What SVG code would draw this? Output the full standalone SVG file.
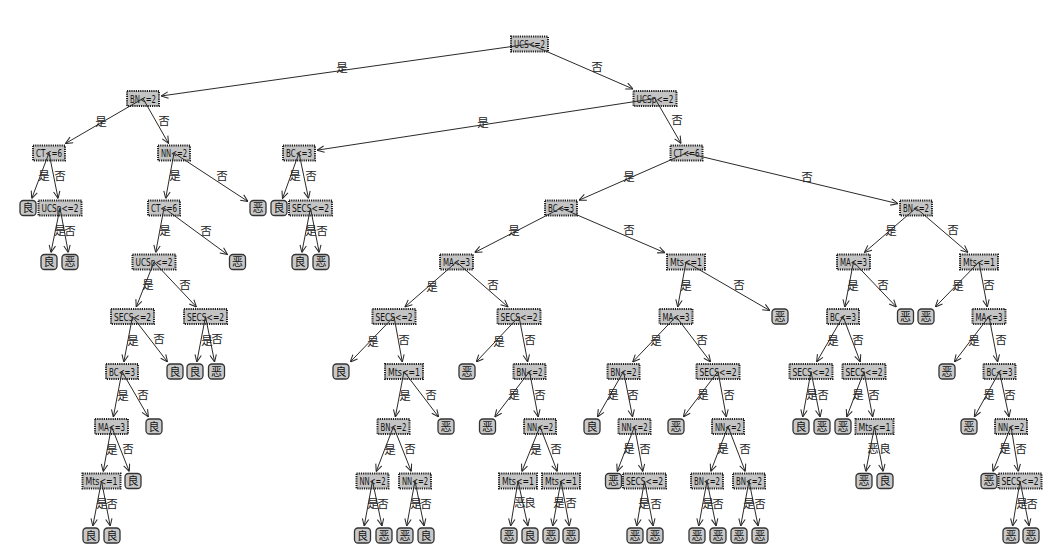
<svg xmlns="http://www.w3.org/2000/svg" width="1056" height="557" viewBox="0 0 1056 557">
<style>
.d rect{fill:#c4c4c4;stroke:#1e1e1e;stroke-width:2;stroke-dasharray:1.2 1}
.d text{font-family:"Liberation Sans Narrow","DejaVu Sans Condensed","Liberation Sans",sans-serif;font-size:11px;fill:#111;text-anchor:middle}
.l rect{fill:#c8c8c8;stroke:#333;stroke-width:1.3}
.l text{font-family:"Noto Sans CJK SC",sans-serif;font-size:11px;fill:#111;text-anchor:middle}
#edges line{stroke:#2a2a2a;stroke-width:1;marker-end:url(#arr)}
#labels text{font-family:"Noto Sans CJK SC",sans-serif;font-size:11.5px;fill:#222;text-anchor:middle}
</style>
<defs>
<marker id="arr" viewBox="0 0 10 10" refX="10" refY="5" markerWidth="8" markerHeight="8" orient="auto" markerUnits="userSpaceOnUse">
<path d="M1,1 L10,5 L1,9" fill="none" stroke="#2a2a2a" stroke-width="1.3"/>
</marker>
</defs>
<rect width="1056" height="557" fill="#ffffff"/>
<g id="nodes">
<g id="n0" class="d"><rect x="511" y="36.5" width="37" height="15"/><text x="529.5" y="48" textLength="31" lengthAdjust="spacingAndGlyphs">UCS&lt;=2</text></g>
<g id="n1" class="d"><rect x="127" y="91" width="32" height="15"/><text x="143" y="102.5" textLength="26" lengthAdjust="spacingAndGlyphs">BN&lt;=2</text></g>
<g id="n2" class="d"><rect x="633.5" y="91" width="43" height="15"/><text x="655" y="102.5" textLength="37" lengthAdjust="spacingAndGlyphs">UCSp&lt;=2</text></g>
<g id="n3" class="d"><rect x="33" y="145.5" width="32" height="15"/><text x="49" y="157" textLength="26" lengthAdjust="spacingAndGlyphs">CT&lt;=6</text></g>
<g id="n4" class="d"><rect x="158" y="145.5" width="32" height="15"/><text x="174" y="157" textLength="26" lengthAdjust="spacingAndGlyphs">NN&lt;=2</text></g>
<g id="n5" class="d"><rect x="283" y="145.5" width="32" height="15"/><text x="299" y="157" textLength="26" lengthAdjust="spacingAndGlyphs">BC&lt;=3</text></g>
<g id="n6" class="d"><rect x="670.5" y="145.5" width="32" height="15"/><text x="686.5" y="157" textLength="26" lengthAdjust="spacingAndGlyphs">CT&lt;=6</text></g>
<g id="n7" class="l"><rect x="20" y="200.5" width="16" height="15" rx="3.5"/><text x="28" y="212">良</text></g>
<g id="n8" class="d"><rect x="38.5" y="200.5" width="43" height="15"/><text x="60" y="212" textLength="37" lengthAdjust="spacingAndGlyphs">UCSp&lt;=2</text></g>
<g id="n9" class="d"><rect x="148" y="200.5" width="32" height="15"/><text x="164" y="212" textLength="26" lengthAdjust="spacingAndGlyphs">CT&lt;=6</text></g>
<g id="n10" class="l"><rect x="250" y="200.5" width="16" height="15" rx="3.5"/><text x="258" y="212">恶</text></g>
<g id="n11" class="l"><rect x="271" y="200.5" width="16" height="15" rx="3.5"/><text x="279" y="212">良</text></g>
<g id="n12" class="d"><rect x="289" y="200.5" width="43" height="15"/><text x="310.5" y="212" textLength="37" lengthAdjust="spacingAndGlyphs">SECS&lt;=2</text></g>
<g id="n13" class="d"><rect x="545" y="200.5" width="32" height="15"/><text x="561" y="212" textLength="26" lengthAdjust="spacingAndGlyphs">BC&lt;=3</text></g>
<g id="n14" class="d"><rect x="900" y="200.5" width="32" height="15"/><text x="916" y="212" textLength="26" lengthAdjust="spacingAndGlyphs">BN&lt;=2</text></g>
<g id="n15" class="l"><rect x="41" y="254.5" width="16" height="15" rx="3.5"/><text x="49" y="266">良</text></g>
<g id="n16" class="l"><rect x="62" y="254.5" width="16" height="15" rx="3.5"/><text x="70" y="266">恶</text></g>
<g id="n17" class="d"><rect x="132.5" y="254.5" width="43" height="15"/><text x="154" y="266" textLength="37" lengthAdjust="spacingAndGlyphs">UCSp&lt;=2</text></g>
<g id="n18" class="l"><rect x="229.5" y="254.5" width="16" height="15" rx="3.5"/><text x="237.5" y="266">恶</text></g>
<g id="n19" class="l"><rect x="292" y="254.5" width="16" height="15" rx="3.5"/><text x="300" y="266">良</text></g>
<g id="n20" class="l"><rect x="313" y="254.5" width="16" height="15" rx="3.5"/><text x="321" y="266">恶</text></g>
<g id="n21" class="d"><rect x="440" y="254.5" width="33" height="15"/><text x="456.5" y="266" textLength="27" lengthAdjust="spacingAndGlyphs">MA&lt;=3</text></g>
<g id="n22" class="d"><rect x="667" y="254.5" width="38" height="15"/><text x="686" y="266" textLength="32" lengthAdjust="spacingAndGlyphs">Mts&lt;=1</text></g>
<g id="n23" class="d"><rect x="837" y="254.5" width="33" height="15"/><text x="853.5" y="266" textLength="27" lengthAdjust="spacingAndGlyphs">MA&lt;=3</text></g>
<g id="n24" class="d"><rect x="960" y="254.5" width="38" height="15"/><text x="979" y="266" textLength="32" lengthAdjust="spacingAndGlyphs">Mts&lt;=1</text></g>
<g id="n25" class="d"><rect x="111" y="309" width="43" height="15"/><text x="132.5" y="320.5" textLength="37" lengthAdjust="spacingAndGlyphs">SECS&lt;=2</text></g>
<g id="n26" class="d"><rect x="184" y="309" width="43" height="15"/><text x="205.5" y="320.5" textLength="37" lengthAdjust="spacingAndGlyphs">SECS&lt;=2</text></g>
<g id="n27" class="d"><rect x="372.5" y="309" width="43" height="15"/><text x="394" y="320.5" textLength="37" lengthAdjust="spacingAndGlyphs">SECS&lt;=2</text></g>
<g id="n28" class="d"><rect x="497.5" y="309" width="43" height="15"/><text x="519" y="320.5" textLength="37" lengthAdjust="spacingAndGlyphs">SECS&lt;=2</text></g>
<g id="n29" class="d"><rect x="659.5" y="309" width="33" height="15"/><text x="676" y="320.5" textLength="27" lengthAdjust="spacingAndGlyphs">MA&lt;=3</text></g>
<g id="n30" class="l"><rect x="772" y="309" width="16" height="15" rx="3.5"/><text x="780" y="320.5">恶</text></g>
<g id="n31" class="d"><rect x="827" y="309" width="32" height="15"/><text x="843" y="320.5" textLength="26" lengthAdjust="spacingAndGlyphs">BC&lt;=3</text></g>
<g id="n32" class="l"><rect x="897.5" y="309" width="16" height="15" rx="3.5"/><text x="905.5" y="320.5">恶</text></g>
<g id="n33" class="l"><rect x="918" y="309" width="16" height="15" rx="3.5"/><text x="926" y="320.5">恶</text></g>
<g id="n34" class="d"><rect x="972.5" y="309" width="33" height="15"/><text x="989" y="320.5" textLength="27" lengthAdjust="spacingAndGlyphs">MA&lt;=3</text></g>
<g id="n35" class="d"><rect x="106" y="364" width="32" height="15"/><text x="122" y="375.5" textLength="26" lengthAdjust="spacingAndGlyphs">BC&lt;=3</text></g>
<g id="n36" class="l"><rect x="167" y="364" width="16" height="15" rx="3.5"/><text x="175" y="375.5">良</text></g>
<g id="n37" class="l"><rect x="187" y="364" width="16" height="15" rx="3.5"/><text x="195" y="375.5">良</text></g>
<g id="n38" class="l"><rect x="208.5" y="364" width="16" height="15" rx="3.5"/><text x="216.5" y="375.5">恶</text></g>
<g id="n39" class="l"><rect x="333" y="364" width="16" height="15" rx="3.5"/><text x="341" y="375.5">良</text></g>
<g id="n40" class="d"><rect x="385" y="364" width="38" height="15"/><text x="404" y="375.5" textLength="32" lengthAdjust="spacingAndGlyphs">Mts&lt;=1</text></g>
<g id="n41" class="l"><rect x="459" y="364" width="16" height="15" rx="3.5"/><text x="467" y="375.5">恶</text></g>
<g id="n42" class="d"><rect x="513.5" y="364" width="32" height="15"/><text x="529.5" y="375.5" textLength="26" lengthAdjust="spacingAndGlyphs">BN&lt;=2</text></g>
<g id="n43" class="d"><rect x="607.5" y="364" width="32" height="15"/><text x="623.5" y="375.5" textLength="26" lengthAdjust="spacingAndGlyphs">BN&lt;=2</text></g>
<g id="n44" class="d"><rect x="696.5" y="364" width="43" height="15"/><text x="718" y="375.5" textLength="37" lengthAdjust="spacingAndGlyphs">SECS&lt;=2</text></g>
<g id="n45" class="d"><rect x="789.5" y="364" width="43" height="15"/><text x="811" y="375.5" textLength="37" lengthAdjust="spacingAndGlyphs">SECS&lt;=2</text></g>
<g id="n46" class="d"><rect x="842.5" y="364" width="43" height="15"/><text x="864" y="375.5" textLength="37" lengthAdjust="spacingAndGlyphs">SECS&lt;=2</text></g>
<g id="n47" class="l"><rect x="939" y="364" width="16" height="15" rx="3.5"/><text x="947" y="375.5">恶</text></g>
<g id="n48" class="d"><rect x="983.5" y="364" width="32" height="15"/><text x="999.5" y="375.5" textLength="26" lengthAdjust="spacingAndGlyphs">BC&lt;=3</text></g>
<g id="n49" class="d"><rect x="95" y="419" width="33" height="15"/><text x="111.5" y="430.5" textLength="27" lengthAdjust="spacingAndGlyphs">MA&lt;=3</text></g>
<g id="n50" class="l"><rect x="146" y="419" width="16" height="15" rx="3.5"/><text x="154" y="430.5">良</text></g>
<g id="n51" class="d"><rect x="377.5" y="419" width="32" height="15"/><text x="393.5" y="430.5" textLength="26" lengthAdjust="spacingAndGlyphs">BN&lt;=2</text></g>
<g id="n52" class="l"><rect x="438" y="419" width="16" height="15" rx="3.5"/><text x="446" y="430.5">恶</text></g>
<g id="n53" class="l"><rect x="479.5" y="419" width="16" height="15" rx="3.5"/><text x="487.5" y="430.5">恶</text></g>
<g id="n54" class="d"><rect x="524" y="419" width="32" height="15"/><text x="540" y="430.5" textLength="26" lengthAdjust="spacingAndGlyphs">NN&lt;=2</text></g>
<g id="n55" class="l"><rect x="584" y="419" width="16" height="15" rx="3.5"/><text x="592" y="430.5">良</text></g>
<g id="n56" class="d"><rect x="618.5" y="419" width="32" height="15"/><text x="634.5" y="430.5" textLength="26" lengthAdjust="spacingAndGlyphs">NN&lt;=2</text></g>
<g id="n57" class="l"><rect x="668" y="419" width="16" height="15" rx="3.5"/><text x="676" y="430.5">恶</text></g>
<g id="n58" class="d"><rect x="712" y="419" width="32" height="15"/><text x="728" y="430.5" textLength="26" lengthAdjust="spacingAndGlyphs">NN&lt;=2</text></g>
<g id="n59" class="l"><rect x="793" y="419" width="16" height="15" rx="3.5"/><text x="801" y="430.5">良</text></g>
<g id="n60" class="l"><rect x="814" y="419" width="16" height="15" rx="3.5"/><text x="822" y="430.5">恶</text></g>
<g id="n61" class="l"><rect x="835" y="419" width="16" height="15" rx="3.5"/><text x="843" y="430.5">恶</text></g>
<g id="n62" class="d"><rect x="855.5" y="419" width="38" height="15"/><text x="874.5" y="430.5" textLength="32" lengthAdjust="spacingAndGlyphs">Mts&lt;=1</text></g>
<g id="n63" class="l"><rect x="961" y="419" width="16" height="15" rx="3.5"/><text x="969" y="430.5">恶</text></g>
<g id="n64" class="d"><rect x="995" y="419" width="32" height="15"/><text x="1011" y="430.5" textLength="26" lengthAdjust="spacingAndGlyphs">NN&lt;=2</text></g>
<g id="n65" class="d"><rect x="82.5" y="473.5" width="38" height="15"/><text x="101.5" y="485" textLength="32" lengthAdjust="spacingAndGlyphs">Mts&lt;=1</text></g>
<g id="n66" class="l"><rect x="125" y="473.5" width="16" height="15" rx="3.5"/><text x="133" y="485">良</text></g>
<g id="n67" class="d"><rect x="356.5" y="473.5" width="32" height="15"/><text x="372.5" y="485" textLength="26" lengthAdjust="spacingAndGlyphs">NN&lt;=2</text></g>
<g id="n68" class="d"><rect x="399" y="473.5" width="32" height="15"/><text x="415" y="485" textLength="26" lengthAdjust="spacingAndGlyphs">NN&lt;=2</text></g>
<g id="n69" class="d"><rect x="499" y="473.5" width="38" height="15"/><text x="518" y="485" textLength="32" lengthAdjust="spacingAndGlyphs">Mts&lt;=1</text></g>
<g id="n70" class="d"><rect x="542" y="473.5" width="38" height="15"/><text x="561" y="485" textLength="32" lengthAdjust="spacingAndGlyphs">Mts&lt;=1</text></g>
<g id="n71" class="l"><rect x="605.5" y="473.5" width="16" height="15" rx="3.5"/><text x="613.5" y="485">恶</text></g>
<g id="n72" class="d"><rect x="623" y="473.5" width="43" height="15"/><text x="644.5" y="485" textLength="37" lengthAdjust="spacingAndGlyphs">SECS&lt;=2</text></g>
<g id="n73" class="d"><rect x="691" y="473.5" width="32" height="15"/><text x="707" y="485" textLength="26" lengthAdjust="spacingAndGlyphs">BN&lt;=2</text></g>
<g id="n74" class="d"><rect x="733" y="473.5" width="32" height="15"/><text x="749" y="485" textLength="26" lengthAdjust="spacingAndGlyphs">BN&lt;=2</text></g>
<g id="n75" class="l"><rect x="856" y="473.5" width="16" height="15" rx="3.5"/><text x="864" y="485">恶</text></g>
<g id="n76" class="l"><rect x="877" y="473.5" width="16" height="15" rx="3.5"/><text x="885" y="485">良</text></g>
<g id="n77" class="l"><rect x="981" y="473.5" width="16" height="15" rx="3.5"/><text x="989" y="485">恶</text></g>
<g id="n78" class="d"><rect x="998.5" y="473.5" width="43" height="15"/><text x="1020" y="485" textLength="37" lengthAdjust="spacingAndGlyphs">SECS&lt;=2</text></g>
<g id="n79" class="l"><rect x="83" y="528" width="16" height="15" rx="3.5"/><text x="91" y="539.5">良</text></g>
<g id="n80" class="l"><rect x="104" y="528" width="16" height="15" rx="3.5"/><text x="112" y="539.5">良</text></g>
<g id="n81" class="l"><rect x="354.5" y="528" width="16" height="15" rx="3.5"/><text x="362.5" y="539.5">良</text></g>
<g id="n82" class="l"><rect x="376" y="528" width="16" height="15" rx="3.5"/><text x="384" y="539.5">恶</text></g>
<g id="n83" class="l"><rect x="397" y="528" width="16" height="15" rx="3.5"/><text x="405" y="539.5">恶</text></g>
<g id="n84" class="l"><rect x="418" y="528" width="16" height="15" rx="3.5"/><text x="426" y="539.5">良</text></g>
<g id="n85" class="l"><rect x="501" y="528" width="16" height="15" rx="3.5"/><text x="509" y="539.5">恶</text></g>
<g id="n86" class="l"><rect x="522" y="528" width="16" height="15" rx="3.5"/><text x="530" y="539.5">良</text></g>
<g id="n87" class="l"><rect x="543" y="528" width="16" height="15" rx="3.5"/><text x="551" y="539.5">恶</text></g>
<g id="n88" class="l"><rect x="563" y="528" width="16" height="15" rx="3.5"/><text x="571" y="539.5">恶</text></g>
<g id="n89" class="l"><rect x="627" y="528" width="16" height="15" rx="3.5"/><text x="635" y="539.5">恶</text></g>
<g id="n90" class="l"><rect x="647" y="528" width="16" height="15" rx="3.5"/><text x="655" y="539.5">恶</text></g>
<g id="n91" class="l"><rect x="689" y="528" width="16" height="15" rx="3.5"/><text x="697" y="539.5">恶</text></g>
<g id="n92" class="l"><rect x="710" y="528" width="16" height="15" rx="3.5"/><text x="718" y="539.5">恶</text></g>
<g id="n93" class="l"><rect x="731" y="528" width="16" height="15" rx="3.5"/><text x="739" y="539.5">恶</text></g>
<g id="n94" class="l"><rect x="752" y="528" width="16" height="15" rx="3.5"/><text x="760" y="539.5">恶</text></g>
<g id="n95" class="l"><rect x="1003" y="528" width="16" height="15" rx="3.5"/><text x="1011" y="539.5">恶</text></g>
<g id="n96" class="l"><rect x="1023" y="528" width="16" height="15" rx="3.5"/><text x="1031" y="539.5">恶</text></g>
</g>
<g id="edges">
<line x1="529.5" y1="44" x2="161" y2="96"/>
<line x1="529.5" y1="44" x2="633.1" y2="89"/>
<line x1="143" y1="98.5" x2="65.4" y2="143.5"/>
<line x1="143" y1="98.5" x2="168.6" y2="143.5"/>
<line x1="655" y1="98.5" x2="317" y2="150.2"/>
<line x1="655" y1="98.5" x2="681" y2="143.5"/>
<line x1="49" y1="153" x2="31.7" y2="198.5"/>
<line x1="49" y1="153" x2="58.1" y2="198.5"/>
<line x1="174" y1="153" x2="165.7" y2="198.5"/>
<line x1="174" y1="153" x2="248" y2="201.5"/>
<line x1="299" y1="153" x2="282.5" y2="198.5"/>
<line x1="299" y1="153" x2="308.5" y2="198.5"/>
<line x1="686.5" y1="153" x2="579" y2="200.2"/>
<line x1="686.5" y1="153" x2="898" y2="203.7"/>
<line x1="60" y1="208" x2="50.9" y2="252.5"/>
<line x1="60" y1="208" x2="68.3" y2="252.5"/>
<line x1="164" y1="208" x2="155.7" y2="252.5"/>
<line x1="164" y1="208" x2="227.5" y2="254.6"/>
<line x1="310.5" y1="208" x2="301.8" y2="252.5"/>
<line x1="310.5" y1="208" x2="319.2" y2="252.5"/>
<line x1="561" y1="208" x2="474.7" y2="252.5"/>
<line x1="561" y1="208" x2="665" y2="252.8"/>
<line x1="916" y1="208" x2="864.4" y2="252.5"/>
<line x1="916" y1="208" x2="968" y2="252.5"/>
<line x1="154" y1="262" x2="136.2" y2="307"/>
<line x1="154" y1="262" x2="196.5" y2="307"/>
<line x1="456.5" y1="262" x2="404.9" y2="307"/>
<line x1="456.5" y1="262" x2="508.1" y2="307"/>
<line x1="686" y1="262" x2="677.7" y2="307"/>
<line x1="686" y1="262" x2="770" y2="310.7"/>
<line x1="853.5" y1="262" x2="844.8" y2="307"/>
<line x1="853.5" y1="262" x2="896.4" y2="307"/>
<line x1="979" y1="262" x2="935.2" y2="307"/>
<line x1="979" y1="262" x2="987.3" y2="307"/>
<line x1="132.5" y1="316.5" x2="123.8" y2="362"/>
<line x1="132.5" y1="316.5" x2="167.6" y2="362"/>
<line x1="205.5" y1="316.5" x2="196.8" y2="362"/>
<line x1="205.5" y1="316.5" x2="214.6" y2="362"/>
<line x1="394" y1="316.5" x2="350.2" y2="362"/>
<line x1="394" y1="316.5" x2="402.3" y2="362"/>
<line x1="519" y1="316.5" x2="476.1" y2="362"/>
<line x1="519" y1="316.5" x2="527.7" y2="362"/>
<line x1="676" y1="316.5" x2="632.6" y2="362"/>
<line x1="676" y1="316.5" x2="710.7" y2="362"/>
<line x1="843" y1="316.5" x2="816.6" y2="362"/>
<line x1="843" y1="316.5" x2="860.3" y2="362"/>
<line x1="989" y1="316.5" x2="954.3" y2="362"/>
<line x1="989" y1="316.5" x2="997.7" y2="362"/>
<line x1="122" y1="371.5" x2="113.3" y2="417"/>
<line x1="122" y1="371.5" x2="148.4" y2="417"/>
<line x1="404" y1="371.5" x2="395.3" y2="417"/>
<line x1="404" y1="371.5" x2="438.7" y2="417"/>
<line x1="529.5" y1="371.5" x2="494.8" y2="417"/>
<line x1="529.5" y1="371.5" x2="538.2" y2="417"/>
<line x1="623.5" y1="371.5" x2="597.5" y2="417"/>
<line x1="623.5" y1="371.5" x2="632.6" y2="417"/>
<line x1="718" y1="371.5" x2="683.3" y2="417"/>
<line x1="718" y1="371.5" x2="726.3" y2="417"/>
<line x1="811" y1="371.5" x2="802.7" y2="417"/>
<line x1="811" y1="371.5" x2="820.1" y2="417"/>
<line x1="864" y1="371.5" x2="846.7" y2="417"/>
<line x1="864" y1="371.5" x2="872.7" y2="417"/>
<line x1="999.5" y1="371.5" x2="974.3" y2="417"/>
<line x1="999.5" y1="371.5" x2="1009" y2="417"/>
<line x1="111.5" y1="426.5" x2="103.2" y2="471.5"/>
<line x1="111.5" y1="426.5" x2="129.3" y2="471.5"/>
<line x1="393.5" y1="426.5" x2="376.2" y2="471.5"/>
<line x1="393.5" y1="426.5" x2="411.3" y2="471.5"/>
<line x1="540" y1="426.5" x2="521.8" y2="471.5"/>
<line x1="540" y1="426.5" x2="557.3" y2="471.5"/>
<line x1="634.5" y1="426.5" x2="617.2" y2="471.5"/>
<line x1="634.5" y1="426.5" x2="642.8" y2="471.5"/>
<line x1="728" y1="426.5" x2="710.7" y2="471.5"/>
<line x1="728" y1="426.5" x2="745.3" y2="471.5"/>
<line x1="874.5" y1="426.5" x2="865.8" y2="471.5"/>
<line x1="874.5" y1="426.5" x2="883.2" y2="471.5"/>
<line x1="1011" y1="426.5" x2="992.8" y2="471.5"/>
<line x1="1011" y1="426.5" x2="1018.4" y2="471.5"/>
<line x1="101.5" y1="481" x2="92.8" y2="526"/>
<line x1="101.5" y1="481" x2="110.2" y2="526"/>
<line x1="372.5" y1="481" x2="364.2" y2="526"/>
<line x1="372.5" y1="481" x2="382" y2="526"/>
<line x1="415" y1="481" x2="406.7" y2="526"/>
<line x1="415" y1="481" x2="424.1" y2="526"/>
<line x1="518" y1="481" x2="510.6" y2="526"/>
<line x1="518" y1="481" x2="527.9" y2="526"/>
<line x1="561" y1="481" x2="552.7" y2="526"/>
<line x1="561" y1="481" x2="569.3" y2="526"/>
<line x1="644.5" y1="481" x2="636.7" y2="526"/>
<line x1="644.5" y1="481" x2="653.2" y2="526"/>
<line x1="707" y1="481" x2="698.7" y2="526"/>
<line x1="707" y1="481" x2="716.1" y2="526"/>
<line x1="749" y1="481" x2="740.7" y2="526"/>
<line x1="749" y1="481" x2="758.1" y2="526"/>
<line x1="1020" y1="481" x2="1012.6" y2="526"/>
<line x1="1020" y1="481" x2="1029.1" y2="526"/>
</g>
<g id="labels">
<text x="342" y="72">是</text><text x="597" y="71">否</text>
<text x="101" y="126">是</text><text x="164" y="125">否</text>
<text x="483" y="127">是</text><text x="677" y="124">否</text>
<text x="44" y="180">是</text><text x="60" y="180">否</text>
<text x="175" y="180">是</text><text x="222" y="180">否</text>
<text x="295" y="180">是</text><text x="311" y="180">否</text>
<text x="629" y="181">是</text><text x="807" y="181">否</text>
<text x="60" y="235">是</text><text x="70" y="235">否</text>
<text x="165" y="235">是</text><text x="206" y="235">否</text>
<text x="311" y="235">是</text><text x="322" y="235">否</text>
<text x="514" y="235">是</text><text x="629" y="234">否</text>
<text x="891" y="235">是</text><text x="953" y="234">否</text>
<text x="148" y="289">是</text><text x="185" y="289">否</text>
<text x="432" y="291">是</text><text x="493" y="289">否</text>
<text x="686" y="290">是</text><text x="739" y="289">否</text>
<text x="853" y="290">是</text><text x="883" y="289">否</text>
<text x="958" y="290">是</text><text x="989" y="289">否</text>
<text x="133" y="345">是</text><text x="159" y="343">否</text>
<text x="207" y="345">是</text><text x="217" y="343">否</text>
<text x="373" y="346">是</text><text x="404" y="344">否</text>
<text x="499" y="346">是</text><text x="530" y="344">否</text>
<text x="656" y="345">是</text><text x="702" y="344">否</text>
<text x="833" y="345">是</text><text x="858" y="344">否</text>
<text x="974" y="345">是</text><text x="1001" y="344">否</text>
<text x="123" y="400">是</text><text x="143" y="399">否</text>
<text x="405" y="400">是</text><text x="431" y="399">否</text>
<text x="514" y="399">是</text><text x="540" y="399">否</text>
<text x="613" y="399">是</text><text x="633" y="399">否</text>
<text x="703" y="399">是</text><text x="729" y="399">否</text>
<text x="812" y="399">是</text><text x="823" y="399">否</text>
<text x="858" y="399">是</text><text x="874" y="399">否</text>
<text x="989" y="399">是</text><text x="1010" y="399">否</text>
<text x="112" y="454">是</text><text x="128" y="453">否</text>
<text x="390" y="454">是</text><text x="410" y="453">否</text>
<text x="536" y="454">是</text><text x="556" y="453">否</text>
<text x="629" y="453">是</text><text x="645" y="453">否</text>
<text x="723" y="453">是</text><text x="745" y="453">否</text>
<text x="873" y="453">恶</text><text x="885" y="453">良</text>
<text x="1005" y="453">是</text><text x="1021" y="453">否</text>
<text x="102" y="508">是</text><text x="112" y="508">否</text>
<text x="373" y="508">是</text><text x="383" y="508">否</text>
<text x="416" y="508">是</text><text x="426" y="508">否</text>
<text x="520" y="507">恶</text><text x="530" y="507">良</text>
<text x="559" y="507">是</text><text x="571" y="507">否</text>
<text x="644" y="508">是</text><text x="656" y="508">否</text>
<text x="708" y="508">是</text><text x="718" y="508">否</text>
<text x="749" y="508">是</text><text x="760" y="508">否</text>
<text x="1022" y="508">是</text><text x="1032" y="508">否</text>
</g>
</svg>
